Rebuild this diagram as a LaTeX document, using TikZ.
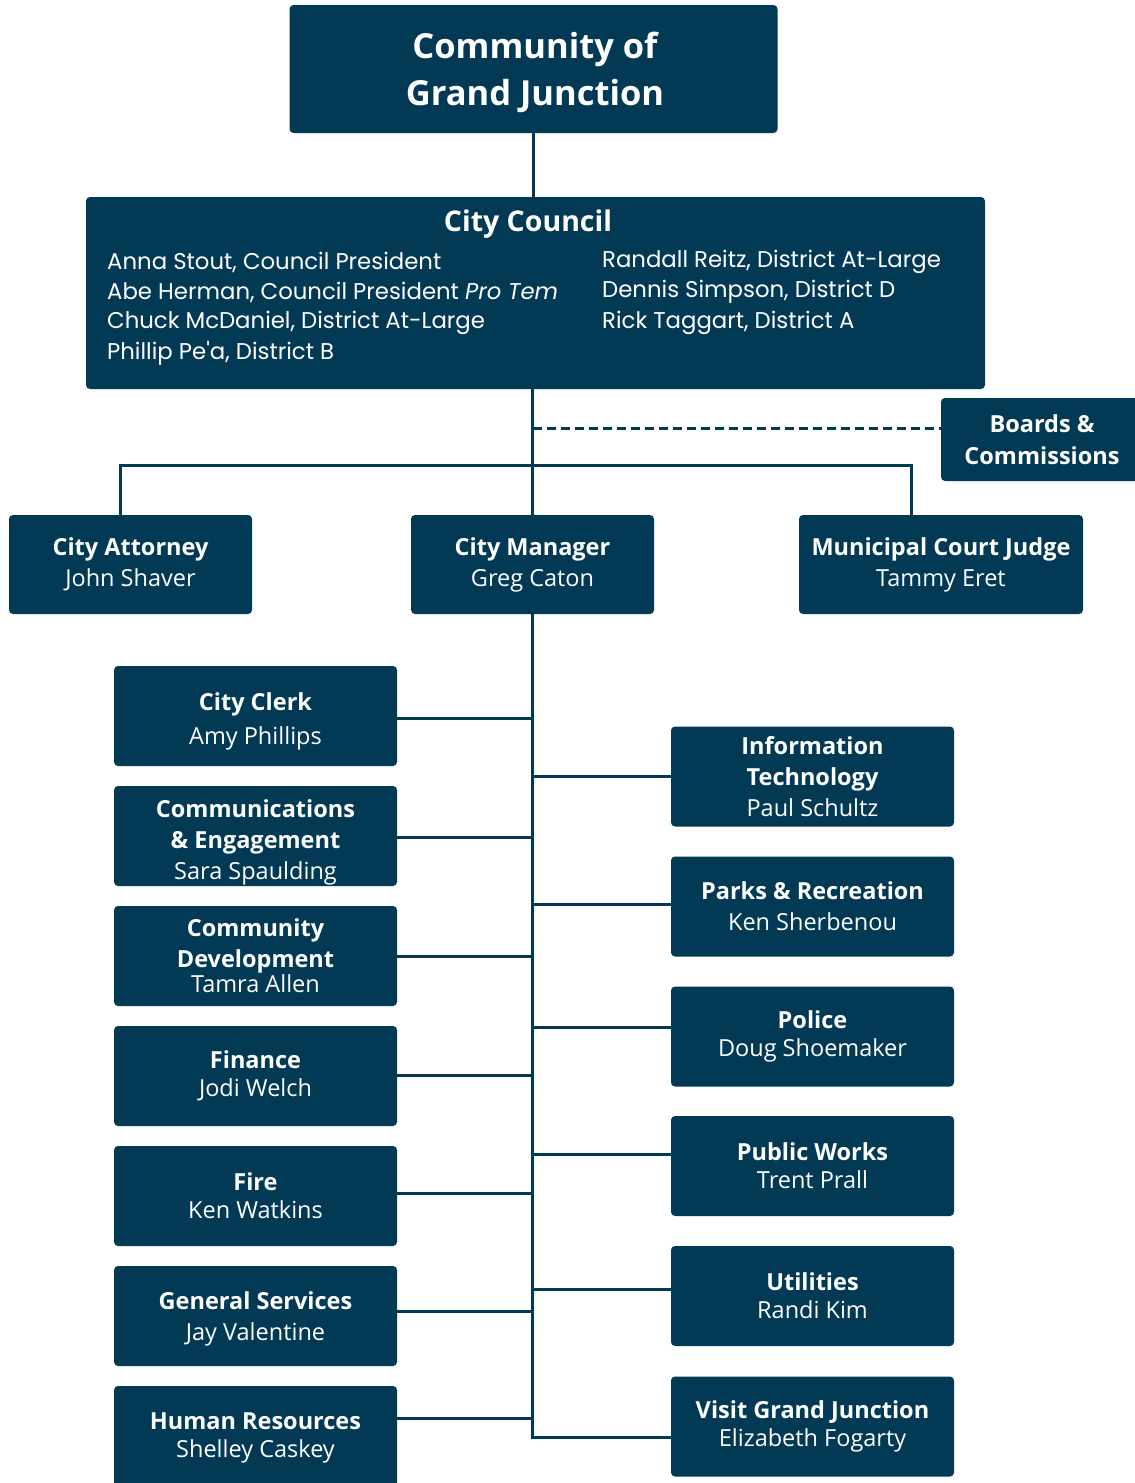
\documentclass[tikz,border=0pt]{standalone}
\usepackage{fontspec}
\setmainfont{Open Sans}
\newfontfamily\popfont{Poppins}
\definecolor{navy}{HTML}{023A56}
\tikzset{
  orgbox/.style={fill=navy, rounded corners=4pt, text=white, align=center, inner sep=0pt,
    font=\fontsize{23.5}{31}\selectfont},
  boxtext/.style={text=white, align=center, inner sep=0pt, font=\fontsize{23.5}{31}\selectfont},
  conn/.style={draw=navy, line width=3pt},
  dconn/.style={draw=navy, line width=3pt, dash pattern=on 9pt off 5pt},
  member/.style={anchor=west, text=white, inner sep=0pt, font=\popfont\fontsize{22.8}{26}\selectfont}
}
\begin{document}
\begin{tikzpicture}[x=1pt,y=-1pt]
\useasboundingbox (0,0) rectangle (1135,1483);
% top
\node[orgbox, minimum width=488pt, minimum height=128pt] (top) at (533.5,69) {};
\node[text=white, align=center, inner sep=0pt, font=\bfseries\fontsize{34.5}{47}\selectfont] (toptext) at (535,72) {Community of\\Grand Junction};
% council
\node[orgbox, minimum width=899pt, minimum height=192pt] (council) at (535.5,293) {};
\node[text=white, inner sep=0pt, font=\bfseries\fontsize{28.5}{34}\selectfont] (ctitle) at (528,224) {City Council};
\node[member] (m1) at (107,262) {Anna Stout, Council President};
\node[member] (m2) at (107,292) {Abe Herman, Council President \textit{Pro Tem}};
\node[member] (m3) at (107,323) {Chuck McDaniel, District At-Large};
\node[member] (m4) at (107,353) {Phillip Pe'a, District B};
\node[member] (m5) at (602,262) {Randall Reitz, District At-Large};
\node[member] (m6) at (602,292) {Dennis Simpson, District D};
\node[member] (m7) at (602,323) {Rick Taggart, District A};
% boards
\node[orgbox, minimum width=200pt, minimum height=83pt, font=\bfseries\fontsize{23.5}{32}\selectfont] (boards) at (1041,439.5) {\hspace*{2pt}Boards \&\\\hspace*{2pt}Commissions};
% second row
\node[orgbox, minimum width=243pt, minimum height=99pt] (attorney) at (130.5,564.5) {\textbf{City Attorney}\\John Shaver};
\node[orgbox, minimum width=243pt, minimum height=99pt] (cm) at (532.5,564.5) {\textbf{City Manager}\\Greg Caton};
\node[orgbox, minimum width=284pt, minimum height=99pt] (court) at (941,564.5) {\textbf{Municipal Court Judge}\\Tammy Eret};
% left departments
\node[orgbox, minimum width=283pt, minimum height=100pt] (clerk) at (255.5,716) {};
\node[boxtext] (clerkt) at ([yshift=-5pt]clerk.center) {\textbf{City Clerk}\\[3pt]Amy Phillips};
\node[orgbox, minimum width=283pt, minimum height=100pt] (comms) at (255.5,836) {};
\node[boxtext] (commst) at ([yshift=-6pt]comms.center) {\textbf{Communications}\\\textbf{\& Engagement}\\Sara Spaulding};
\node[orgbox, minimum width=283pt, minimum height=100pt] (cdev) at (255.5,956) {\textbf{Community}\\\textbf{Development}\\[-6pt]Tamra Allen};
\node[orgbox, minimum width=283pt, minimum height=100pt] (fin) at (255.5,1076) {\textbf{Finance}\\[-3pt]Jodi Welch};
\node[orgbox, minimum width=283pt, minimum height=100pt] (fire) at (255.5,1196) {\textbf{Fire}\\[-3pt]Ken Watkins};
\node[orgbox, minimum width=283pt, minimum height=100pt] (gs) at (255.5,1316) {};
\node[boxtext] (gst) at ([yshift=-3pt]gs.center) {\textbf{General Services}\\Jay Valentine};
\node[orgbox, minimum width=283pt, minimum height=104pt] (hr) at (255.5,1438) {\textbf{Human Resources}\\[-3pt]Shelley Caskey};
% right departments
\node[orgbox, minimum width=283pt, minimum height=100pt] (it) at (812.5,776.5) {\textbf{Information}\\\textbf{Technology}\\Paul Schultz};
\node[orgbox, minimum width=283pt, minimum height=100pt] (parks) at (812.5,906.5) {\textbf{Parks \& Recreation}\\Ken Sherbenou};
\node[orgbox, minimum width=283pt, minimum height=100pt] (police) at (812.5,1036.5) {\textbf{Police}\\[-3pt]Doug Shoemaker};
\node[orgbox, minimum width=283pt, minimum height=100pt] (pw) at (812.5,1166) {\textbf{Public Works}\\[-3pt]Trent Prall};
\node[orgbox, minimum width=283pt, minimum height=100pt] (util) at (812.5,1296) {\textbf{Utilities}\\[-3pt]Randi Kim};
\node[orgbox, minimum width=283pt, minimum height=100pt] (visit) at (812.5,1426.5) {\textbf{Visit Grand Junction}\\[-3pt]Elizabeth Fogarty};
% connectors
\coordinate (hl) at (120,465);
\coordinate (hrr) at (911,465);
\coordinate (dj) at (533,428);
\draw[conn] (top.south) -- (top.south |- council.north);
\draw[conn] (council.south -| cm.north) -- (cm.north);
\draw[conn] (attorney.north -| hl) -- (hl) -- (hrr) -- (court.north -| hrr);
\draw[dconn] (dj) -- (dj -| boards.west);
\coordinate (tend) at ([yshift=-10.5pt]visit.west -| cm.south);
\draw[conn] (cm.south) -- (tend) -- (tend -| visit.west);
\draw[conn] ([yshift=-2pt]clerk.east) -- ([yshift=-2pt]clerk.east -| cm.south);
\draw[conn] ([yshift=-1pt]comms.east) -- ([yshift=-1pt]comms.east -| cm.south);
\draw[conn] (cdev.east) -- (cdev.east -| cm.south);
\draw[conn] ([yshift=1pt]fin.east) -- ([yshift=1pt]fin.east -| cm.south);
\draw[conn] ([yshift=3pt]fire.east) -- ([yshift=3pt]fire.east -| cm.south);
\draw[conn] ([yshift=5pt]gs.east) -- ([yshift=5pt]gs.east -| cm.south);
\draw[conn] ([yshift=20pt]hr.east) -- ([yshift=20pt]hr.east -| cm.south);
\draw[conn] (it.west -| cm.south) -- (it.west);
\draw[conn] ([yshift=2.5pt]parks.west -| cm.south) -- ([yshift=2.5pt]parks.west);
\draw[conn] ([yshift=9.5pt]police.west -| cm.south) -- ([yshift=9.5pt]police.west);
\draw[conn] ([yshift=12pt]pw.west -| cm.south) -- ([yshift=12pt]pw.west);
\draw[conn] ([yshift=7pt]util.west -| cm.south) -- ([yshift=7pt]util.west);
\end{tikzpicture}
\end{document}
